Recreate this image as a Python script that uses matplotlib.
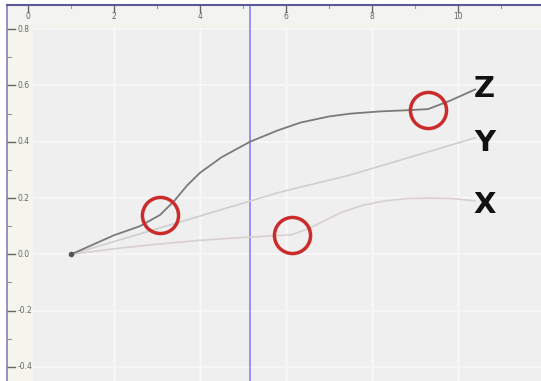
import numpy as np
import matplotlib.pyplot as plt

# courbes
z_x = [1.0, 2.0, 2.6, 3.07, 3.4, 3.7, 4.0, 4.5, 5.16, 5.8, 6.33, 7.0, 7.5, 8.2, 8.8, 9.3, 9.8, 10.4]
z_y = [0.0, 0.068, 0.1, 0.14, 0.19, 0.245, 0.29, 0.345, 0.40, 0.44, 0.468, 0.49, 0.50, 0.508, 0.512, 0.516, 0.545, 0.586]

y_x = [1.0, 3.84, 5.86, 7.49, 10.4]
y_y = [0.0, 0.129, 0.221, 0.282, 0.414]

x_x = [1.0, 2.0, 3.0, 4.0, 5.0, 5.7, 6.14, 6.5, 6.9, 7.3, 7.8, 8.3, 8.8, 9.3, 9.9, 10.4]
x_y = [0.0, 0.02, 0.036, 0.05, 0.06, 0.066, 0.07, 0.09, 0.12, 0.15, 0.175, 0.19, 0.198, 0.2, 0.198, 0.19]

cercles_x = [3.07, 6.14, 9.3]
cercles_y = [0.14, 0.068, 0.514]

noms = ["Z", "Y", "X"]
noms_y = [0.586, 0.396, 0.175]

xticks = [0, 2, 4, 6, 8, 10]
yticks = [0.8, 0.6, 0.4, 0.2, 0.0, -0.2, -0.4]
curseur = 5.16

fig = plt.figure(figsize=(5.41, 3.81), dpi=100)
ax = fig.add_axes([7/541, 0, 534/541, 376/381])
ax.set_facecolor("#efefef")
ax.set_xlim(-0.49, 11.93)
ax.set_ylim(-0.45, 0.886)

# grille claire
for v in xticks:
    ax.axvline(v, color="#f7f7f7", lw=1.8, zorder=0)
for v in np.arange(-0.4, 0.81, 0.2):
    ax.axhline(v, color="#f6f6f6", lw=1.5, zorder=0)
ax.axvspan(-0.49, 0.1, color="#f5f5ee", zorder=0)
ax.axhspan(0.81, 0.886, color="#f3f3ef", zorder=0)

ax.axvline(curseur, color="#8c8cf0", lw=1.3, zorder=1)

ax.plot(x_x, x_y, color="#d8d0d0", lw=1.2, zorder=2)
ax.plot(y_x, y_y, color="#cfcfcf", lw=1.2, zorder=2)
ax.plot(z_x, z_y, color="#7a7a7a", lw=1.3, zorder=3)
ax.plot([1.0], [0.0], "o", color="#555555", ms=3, zorder=4)

ax.plot(cercles_x, cercles_y, "o", ms=26, mfc="none", mec="#cc2b2b", mew=2.5, zorder=5)

for n, yy in zip(noms, noms_y):
    ax.text(10.62, yy, n, fontsize=21, fontweight="bold", ha="center", va="center", color="#111111")

# graduations dans le cadre
for v in xticks:
    ax.plot([v, v], [0.886, 0.862], color="#666666", lw=1)
    ax.text(v, 0.845, str(v), fontsize=5.5, color="#666666", ha="center", va="center")
for v in np.arange(1, 12, 2):
    ax.plot([v, v], [0.886, 0.876], color="#999999", lw=0.8)
for v in yticks:
    ax.plot([-0.49, -0.3], [v, v], color="#666666", lw=1)
    ax.text(-0.25, v, "%.1f" % v, fontsize=5.5, color="#666666", ha="left", va="center")
for v in np.arange(-0.3, 0.8, 0.2):
    ax.plot([-0.49, -0.4], [v, v], color="#999999", lw=0.8)

ax.set_xticks([])
ax.set_yticks([])
for s in ["right", "bottom"]:
    ax.spines[s].set_visible(False)
ax.spines["top"].set_color("#5a5a9a")
ax.spines["left"].set_color("#8080c0")
ax.spines["top"].set_linewidth(1.5)
ax.spines["left"].set_linewidth(1.2)

fig.savefig("out.png", dpi=100)
